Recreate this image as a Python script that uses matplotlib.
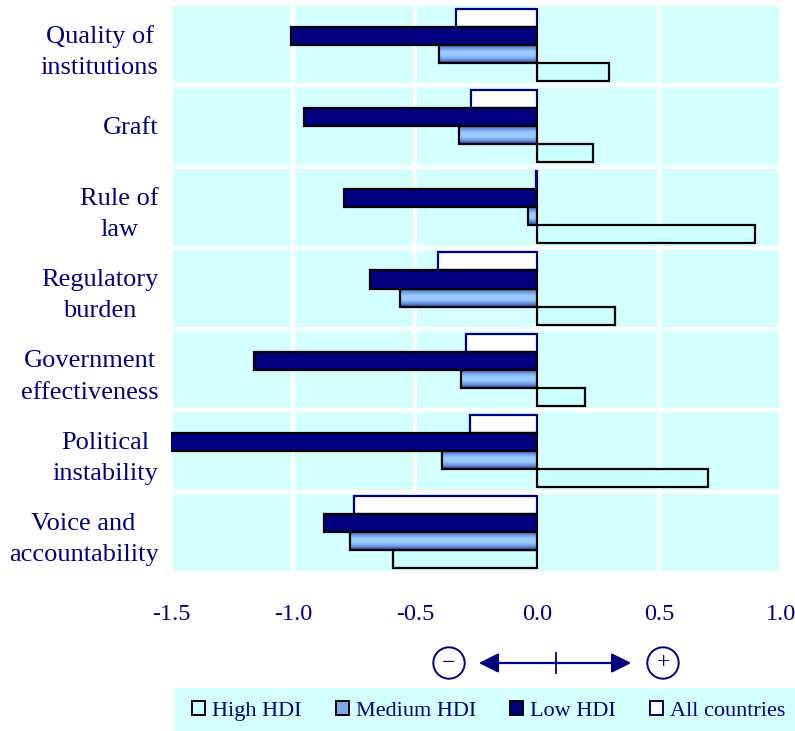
import numpy as np
import matplotlib
matplotlib.use("Agg")
import matplotlib.pyplot as plt
from matplotlib.patches import Patch, FancyArrowPatch, Rectangle
from matplotlib.colors import LinearSegmentedColormap
from matplotlib.lines import Line2D

# ── data ──────────────────────────────────────
categories = ["Quality of\ninstitutions", "Graft", "Rule of\nlaw", "Regulatory\nburden",
              "Government\neffectiveness", "Political\ninstability", "Voice and\naccountability"]
all_countries = [-0.33, -0.27, -0.005, -0.405, -0.29, -0.275, -0.75]
low_hdi       = [-1.01, -0.955, -0.79, -0.685, -1.16, -1.52, -0.873]
medium_hdi    = [-0.40, -0.32, -0.037, -0.56, -0.31, -0.39, -0.766]
high_hdi      = [0.295, 0.23, 0.895, 0.32, 0.197, 0.70, -0.59]
x_ticks = [-1.5, -1.0, -0.5, 0.0, 0.5, 1.0]

NAVY = "#000080"
CYAN_BG = "#D4FFFF"
HIGH_FILL = "#CCFFFF"
serif = ["Liberation Serif", "DejaVu Serif"]
plt.rcParams["font.family"] = serif

fig = plt.figure(figsize=(7.95, 7.31), dpi=100)
ax = fig.add_axes([171 / 795, 1 - 573 / 731, (781 - 171) / 795, 569 / 731])
ax.set_facecolor(CYAN_BG)
for s in ax.spines.values():
    s.set_visible(False)

y = np.arange(len(categories))
h = 0.222
off = [-1.5 * h, -0.5 * h, 0.5 * h, 1.5 * h]

ax.barh(y + off[0], all_countries, height=h, color="white", edgecolor=NAVY, lw=1.6, zorder=3)
ax.barh(y + off[1], low_hdi, height=h, color=NAVY, edgecolor="black", lw=1.6, zorder=3)
med = ax.barh(y + off[2], medium_hdi, height=h, color="none", edgecolor="black", lw=1.6, zorder=5)
ax.barh(y + off[3], high_hdi, height=h, color=HIGH_FILL, edgecolor="black", lw=1.6, zorder=3)

# gradient fill for the Medium HDI bars
grad_cmap = LinearSegmentedColormap.from_list(
    "med", ["#2A3C94", "#6F9BE6", "#9CCBFF", "#9CCBFF", "#6F9BE6", "#2A3C94"])
grad = np.linspace(0, 1, 64).reshape(-1, 1)
for bar in med:
    x0, y0 = bar.get_x(), bar.get_y()
    w, hh = bar.get_width(), bar.get_height()
    im = ax.imshow(grad, cmap=grad_cmap, aspect="auto", zorder=4,
                   extent=[x0, x0 + w, y0 + hh, y0])
    im.set_clip_path(bar)

ax.set_xlim(-1.5, 1.0)
ax.set_ylim(len(categories) - 0.5, -0.5)

ax.set_xticks(x_ticks)
ax.set_xticklabels([f"{v:.1f}" for v in x_ticks], color=NAVY, fontsize=17.5)
ax.set_yticks(y)
ax.set_yticklabels(categories, color=NAVY, fontsize=19, multialignment="center", linespacing=1.55)
for lab in ax.get_yticklabels():
    lab.set_y(lab.get_position()[1])
    lab.set_transform(lab.get_transform() + matplotlib.transforms.ScaledTranslation(0, 3 / 72, fig.dpi_scale_trans))
ax.set_yticks(np.arange(-0.5, len(categories), 1), minor=True)
ax.tick_params(axis="both", which="both", length=0)
ax.tick_params(axis="x", pad=22)
ax.tick_params(axis="y", pad=9)
ax.set_axisbelow(True)
ax.grid(axis="x", which="major", color="white", lw=2.9, zorder=1)
ax.grid(axis="y", which="minor", color="white", lw=2.9, zorder=1)

# direction arrow below the axis
fy = 1 - 663 / 731
fig.text(449 / 795, fy, "\u2212", ha="center", va="center", color=NAVY, fontsize=17,
         bbox=dict(boxstyle="circle,pad=0.22", fc="white", ec=NAVY, lw=1.4))
fig.text(663 / 795, fy, "+", ha="center", va="center", color=NAVY, fontsize=17,
         bbox=dict(boxstyle="circle,pad=0.22", fc="white", ec=NAVY, lw=1.4))
arr = FancyArrowPatch((476 / 795, fy), (634 / 795, fy), transform=fig.transFigure,
                      arrowstyle="<|-|>", mutation_scale=30, color=NAVY, lw=1.6)
fig.patches.append(arr)
fig.lines.append(Line2D([556 / 795, 556 / 795], [fy - 10 / 731, fy + 10 / 731],
                        transform=fig.transFigure, color=NAVY, lw=1.3))

# legend strip
fig.patches.append(Rectangle((175 / 795, 0), 620 / 795, 43 / 731, transform=fig.transFigure,
                             facecolor=CYAN_BG, edgecolor="none", zorder=0))
handles = [
    Patch(facecolor=HIGH_FILL, edgecolor="black", lw=1.4, label="High HDI"),
    Patch(facecolor="#7FA8EC", edgecolor="black", lw=1.4, label="Medium HDI"),
    Patch(facecolor=NAVY, edgecolor="black", lw=1.4, label="Low HDI"),
    Patch(facecolor="white", edgecolor=NAVY, lw=1.4, label="All countries"),
]
leg = fig.legend(handles=handles, loc="lower left", ncol=4,
                 bbox_to_anchor=(182 / 795, 0, 613 / 795, 43 / 731), mode="expand",
                 frameon=False, fontsize=16, handlelength=0.6, handleheight=0.6,
                 handletextpad=0.3, columnspacing=0.8, borderaxespad=0, borderpad=0.45)
for t in leg.get_texts():
    t.set_color(NAVY)

fig.savefig("out.png", dpi=100)
